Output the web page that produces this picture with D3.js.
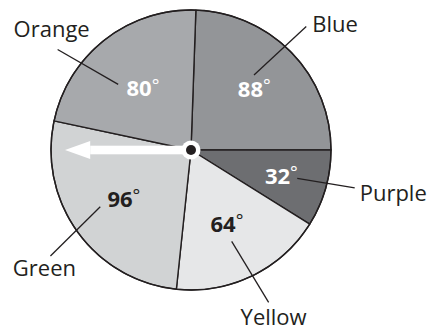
<!DOCTYPE html>
<html>
<head>
<meta charset="utf-8">
<script src="https://cdn.jsdelivr.net/npm/d3@7"></script>
<style>
    body { margin: 0; background: #ffffff; }
</style>
</head>
<body>
<div id="chart"></div>
<script>
// Data (degrees of each sector, clockwise from top)
const categories = ["Blue", "Purple", "Yellow", "Green", "Orange"];
const degrees = [88, 32, 64, 96, 80];
const sliceColors = ["#939598", "#6d6e71", "#e6e7e8", "#d1d3d4", "#a7a9ac"];
const valueTextColors = ["#ffffff", "#ffffff", "#231f20", "#231f20", "#ffffff"];

const width = 430;
const height = 331;
const cx = 191;
const cy = 150;
const radius = 140;
const startDeg = 2;
const ink = "#231f20";

// annotation layout: leader line (angle in deg, radius) and label offset from the leader end
const annot = {
    "Blue":   { valueR: 88, from: [40, 98],  to: [43, 169],  dx: 6,  dy: 6,  anchor: "start" },
    "Purple": { valueR: 94, from: [105, 110], to: [103, 168], dx: 5,  dy: 13, anchor: "start" },
    "Yellow": { valueR: 82, from: [156, 100], to: [153, 171], dx: 5,  dy: 23, anchor: "middle" },
    "Green":  { valueR: 83, from: [238, 107], to: [233, 176], dx: -6, dy: 20, anchor: "middle" },
    "Orange": { valueR: 78, from: [312, 98],  to: [307, 167], dx: -6, dy: -12, anchor: "middle" }
};

const rad = d => d * Math.PI / 180;
const polar = (angDeg, r) => [cx + r * Math.sin(rad(angDeg)), cy - r * Math.cos(rad(angDeg))];

const data = categories.map((c, i) => ({ name: c, deg: degrees[i] }));

const color = d3.scaleOrdinal().domain(categories).range(sliceColors);
const textColor = d3.scaleOrdinal().domain(categories).range(valueTextColors);

const pie = d3.pie()
    .sort(null)
    .value(d => d.deg)
    .startAngle(rad(startDeg))
    .endAngle(rad(startDeg + 360));

const arcs = pie(data);

const arc = d3.arc()
    .innerRadius(0)
    .outerRadius(radius);

const svg = d3
    .select("#chart")
    .append("svg")
    .attr("width", width)
    .attr("height", height);

const g = svg
    .append("g")
    .attr("transform", "translate(" + cx + "," + cy + ")");

// sectors
g.selectAll("path.slice")
    .data(arcs)
    .join("path")
    .attr("class", "slice")
    .attr("d", arc)
    .attr("fill", d => color(d.data.name))
    .attr("stroke", ink)
    .attr("stroke-width", 1.4)
    .attr("stroke-linejoin", "round");

// outer rim
g.append("circle")
    .attr("r", radius)
    .attr("fill", "none")
    .attr("stroke", ink)
    .attr("stroke-width", 1.4);

// leader lines
svg.selectAll("line.leader")
    .data(data)
    .join("line")
    .attr("class", "leader")
    .attr("x1", d => polar(...annot[d.name].from)[0])
    .attr("y1", d => polar(...annot[d.name].from)[1])
    .attr("x2", d => polar(...annot[d.name].to)[0])
    .attr("y2", d => polar(...annot[d.name].to)[1])
    .attr("stroke", ink)
    .attr("stroke-width", 1.3);

// category labels
svg.selectAll("text.cat")
    .data(data)
    .join("text")
    .attr("class", "cat")
    .attr("x", d => polar(...annot[d.name].to)[0] + annot[d.name].dx)
    .attr("y", d => polar(...annot[d.name].to)[1] + annot[d.name].dy)
    .attr("text-anchor", d => annot[d.name].anchor)
    .attr("font-family", "'Open Sans', 'Noto Sans', sans-serif")
    .attr("font-size", 22)
    .attr("fill", ink)
    .text(d => d.name);

// degree labels at the sector centroids
const valueText = g.selectAll("text.value")
    .data(arcs)
    .join("text")
    .attr("class", "value")
    .attr("transform", d => {
        const r = annot[d.data.name].valueR;
        const c = d3.arc().innerRadius(r).outerRadius(r).centroid(d);
        return "translate(" + c[0] + "," + c[1] + ")";
    })
    .attr("text-anchor", "middle")
    .attr("dy", "0.36em")
    .attr("font-family", "'Open Sans', 'Noto Sans', sans-serif")
    .attr("font-weight", "bold")
    .attr("font-size", 22)
    .attr("fill", d => textColor(d.data.name));

valueText.append("tspan").text(d => d.data.deg);
valueText.append("tspan")
    .attr("font-weight", "normal")
    .attr("font-size", 18)
    .attr("dy", "-0.25em")
    .text("°");

// white arrow pointing left from the centre
const arrowX = d3.scaleLinear().domain([0, 1]).range([0, -126]);
g.append("rect")
    .attr("x", arrowX(0.8))
    .attr("y", -4.3)
    .attr("width", -arrowX(0.8))
    .attr("height", 8.6)
    .attr("fill", "#ffffff");
g.append("path")
    .attr("d", d3.line()([[arrowX(1), 0], [arrowX(0.8), -9], [arrowX(0.8), 9]]) + "Z")
    .attr("fill", "#ffffff");

// centre pin
g.append("circle")
    .attr("r", 9.5)
    .attr("fill", "#ffffff");
g.append("circle")
    .attr("r", 5)
    .attr("fill", ink);
</script>
</body>
</html>
